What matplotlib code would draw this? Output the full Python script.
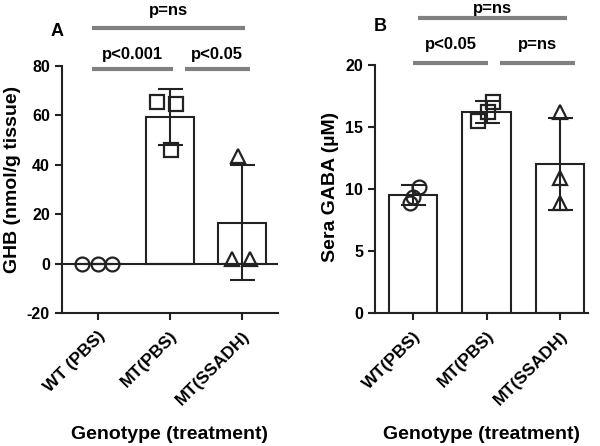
"""Two-panel bar chart: GHB tissue level and sera GABA by genotype (treatment)."""

import matplotlib
matplotlib.use("Agg")
import matplotlib.pyplot as plt
import numpy as np

plt.rcParams["font.family"] = ["Liberation Sans", "DejaVu Sans"]
plt.rcParams["font.weight"] = "bold"
plt.rcParams["axes.unicode_minus"] = False

# Panel A: GHB (nmol/g tissue)
labels_a = ["WT (PBS)", "MT(PBS)", "MT(SSADH)"]
mean_a = [0.0, 59.2, 16.5]
sd_a = [0.0, 11.3, 23.3]
pts_a = [[0.0, 0.0, 0.0], [65.5, 64.8, 46.0], [2.0, 2.0, 43.5]]
jit_a = [[-0.22, 0.0, 0.2], [-0.18, 0.08, 0.02], [-0.13, 0.11, -0.05]]

# Panel B: Sera GABA (uM)
labels_b = ["WT(PBS)", "MT(PBS)", "MT(SSADH)"]
mean_b = [9.5, 16.2, 12.0]
sd_b = [0.8, 0.9, 3.7]
pts_b = [[8.9, 9.4, 10.2], [15.5, 16.2, 17.0], [16.2, 10.9, 8.9]]
jit_b = [[-0.05, 0.0, 0.08], [-0.12, 0.02, 0.08], [0.0, 0.0, 0.0]]

MARKERS = ["o", "s", "^"]
LINE = "#222222"
SIG = "#808080"


def draw_panel(ax, labels, mean, sd, pts, jit, xlim, ylim, yticks):
    x = np.arange(len(labels))
    ax.bar(x, mean, width=0.66, color="white", edgecolor=LINE, linewidth=1.5, zorder=2)
    ax.errorbar(x, mean, yerr=sd, fmt="none", ecolor=LINE, elinewidth=1.5,
                capsize=9, capthick=1.5, zorder=4)
    for i in range(len(labels)):
        ax.plot(x[i] + np.array(jit[i]), pts[i], linestyle="none", marker=MARKERS[i],
                markersize=10, markerfacecolor="none", markeredgecolor=LINE,
                markeredgewidth=1.6, zorder=5, clip_on=False)
    ax.set_xlim(*xlim)
    ax.set_ylim(*ylim)
    ax.set_yticks(yticks)
    ax.set_xticks(x, labels, rotation=45, ha="right", rotation_mode="anchor")
    for s in ("top", "right"):
        ax.spines[s].set_visible(False)
    for s in ("left", "bottom"):
        ax.spines[s].set_linewidth(1.5)
        ax.spines[s].set_color(LINE)
    ax.tick_params(width=1.5, length=5, color=LINE)
    ax.tick_params(axis="y", labelsize=11.5)
    ax.tick_params(axis="x", labelsize=12.5, pad=6)
    ax.set_xlabel("Genotype (treatment)", fontsize=14, fontweight="bold")
    ax.xaxis.set_label_coords(0.5, -0.455)


def sig(ax, x0, x1, y, ty, text):
    ax.plot([x0, x1], [y, y], color=SIG, linewidth=3, clip_on=False, solid_capstyle="butt")
    ax.text((x0 + x1) / 2, ty, text, ha="center", va="center", fontsize=12,
            fontweight="bold", clip_on=False)


fig = plt.figure(figsize=(6, 4.46), dpi=100)
ax_a = fig.add_axes([0.103, 0.298, 0.36, 0.554])
ax_b = fig.add_axes([0.625, 0.298, 0.355, 0.556])

draw_panel(ax_a, labels_a, mean_a, sd_a, pts_a, jit_a, (-0.5, 2.5), (-20, 80),
           [-20, 0, 20, 40, 60, 80])
ax_a.axhline(0, color=LINE, linewidth=1.5, zorder=3)
ax_a.set_ylabel("GHB (nmol/g tissue)", fontsize=14, fontweight="bold")
ax_a.yaxis.set_label_coords(-0.19, 0.54)
sig(ax_a, -0.08, 1.04, 78.8, 84.6, "p<0.001")
sig(ax_a, 1.21, 2.11, 78.8, 84.6, "p<0.05")
sig(ax_a, -0.08, 2.04, 95.5, 102.6, "p=ns")
ax_a.text(-0.57, 93.8, "A", fontsize=13, fontweight="bold", ha="center", va="center")

draw_panel(ax_b, labels_b, mean_b, sd_b, pts_b, jit_b, (-0.52, 2.38), (0, 20),
           [0, 5, 10, 15, 20])
ax_b.set_ylabel("Sera GABA (\u00b5M)", fontsize=14, fontweight="bold")
ax_b.yaxis.set_label_coords(-0.17, 0.51)
sig(ax_b, 0.0, 1.02, 20.2, 21.7, "p<0.05")
sig(ax_b, 1.18, 2.2, 20.2, 21.7, "p=ns")
sig(ax_b, 0.07, 2.1, 23.8, 24.55, "p=ns")
ax_b.text(-0.45, 23.1, "B", fontsize=13, fontweight="bold", ha="center", va="center")

fig.savefig("out.png", dpi=100)
